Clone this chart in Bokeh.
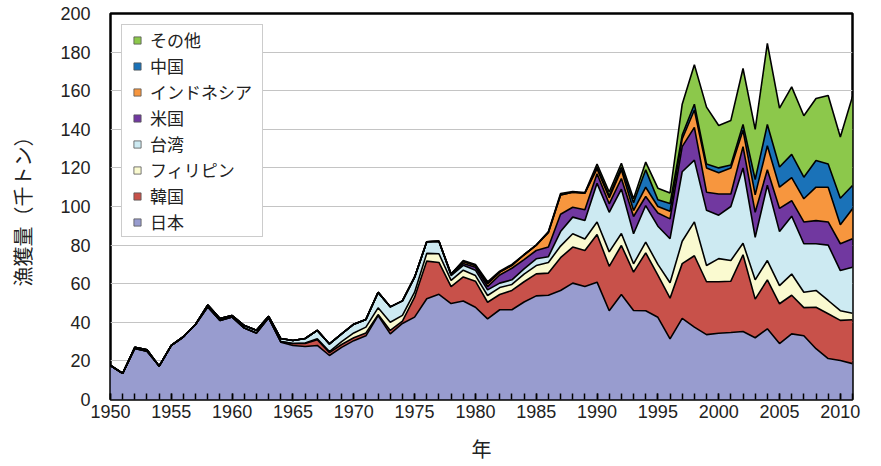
from bokeh.plotting import figure
from bokeh.models import Range1d, FixedTicker, Legend, LegendItem, ColumnDataSource
from bokeh.embed import file_html
from bokeh.resources import INLINE

years = list(range(1950, 2012))

japan = [17.6, 13.5, 26.5, 25.0, 17.3, 28.0, 32.5, 39.0, 48.0, 41.0,
         42.7, 37.0, 34.4, 42.3, 29.7, 28.0, 27.5, 28.0, 22.8, 27.0,
         30.5, 33.0, 43.5, 34.0, 39.4, 42.7, 52.2, 54.5, 49.7, 51.0,
         47.8, 41.8, 46.5, 46.5, 50.5, 53.7, 54.0, 56.5, 60.3, 58.5,
         60.8, 46.0, 54.4, 46.1, 46.0, 42.6, 31.4, 42.0, 37.5, 33.6,
         34.3, 34.7, 35.2, 32.0, 36.6, 29.0, 34.0, 33.0, 26.3, 21.2,
         20.2, 18.6]

korea = [0] * 14 + [0.3, 1.0, 1.5, 3.0, 1.5, 1.5, 1.5, 1.5, 0.5, 1.8,
                    1.2, 10.3, 19.5, 16.5, 8.8, 12.5, 13.5, 8.6, 7.9, 10.0,
                    10.5, 11.4, 11.5, 17.0, 18.7, 18.7, 24.7, 23.0, 25.4, 19.9,
                    30.0, 21.9, 21.1, 28.4, 37.0, 27.4, 26.7, 26.6, 39.8, 20.0,
                    25.4, 20.6, 20.0, 14.6, 21.5, 23.2, 20.8, 22.7]

philippines = [0] * 16 + [0.3, 0.5, 0.5, 1.5, 2.5, 3.0, 3.5, 4.2, 3.0, 2.6,
                          4.0, 4.5, 3.2, 3.5, 2.9, 3.5, 3.6, 3.1, 4.0, 4.3,
                          5.5, 6.0, 6.9, 6.0, 6.5, 7.5, 6.2, 4.3, 5.5, 5.5,
                          8.0, 11.6, 17.5, 8.4, 12.0, 10.7, 6.0, 10.0, 10.0, 9.4,
                          11.0, 8.0, 8.7, 6.9, 5.0, 3.4]

taiwan = [0, 0, 0.5, 0.8, 0, 0, 0, 0, 1.0, 1.0,
          0.8, 1.3, 1.5, 0.8, 1.6, 1.6, 2.3, 4.3, 4.0, 4.0,
          4.5, 4.0, 8.0, 8.0, 7.5, 7.8, 6.0, 6.5, 2.5, 2.5,
          2.8, 2.9, 2.3, 2.4, 2.7, 3.5, 3.0, 7.5, 8.6, 9.5,
          20.0, 20.5, 23.0, 15.6, 19.0, 19.8, 22.8, 36.0, 32.0, 28.6,
          22.5, 28.0, 39.0, 22.0, 39.0, 28.0, 30.0, 25.1, 24.2, 28.7,
          20.8, 23.8]

usa = [0] * 28 + [0.4, 1.0, 1.5, 1.7, 4.2, 6.0, 4.8, 4.3, 5.0, 9.0,
                  5.1, 5.6, 5.0, 4.4, 5.5, 8.9, 4.7, 6.8, 10.3, 13.0,
                  17.0, 9.4, 11.0, 6.5, 11.0, 13.0, 8.0, 12.0, 8.0, 11.3,
                  12.0, 12.0, 13.9, 14.8]

indonesia = [0] * 28 + [0.4, 1.0, 1.0, 1.5, 1.5, 1.5, 2.5, 2.8, 7.5, 10.0,
                        7.8, 8.6, 2.5, 3.1, 4.5, 3.1, 4.8, 3.4, 3.9, 4.0,
                        9.0, 12.6, 11.0, 13.5, 8.5, 9.0, 12.5, 11.0, 12.0, 12.0,
                        17.3, 18.0, 9.8, 15.5]

china = [0] * 40 + [1.0, 1.0, 1.5, 4.1, 9.0, 3.5, 4.0, 2.0, 3.0, 2.0,
                    2.5, 1.5, 3.0, 8.0, 11.0, 10.5, 12.0, 11.2, 13.8, 12.0,
                    13.8, 12.1]

others = [0] * 29 + [0.5, 0.5, 1.0, 0.5, 0.5, 0, 0, 0.5, 0.7, 0.4,
                     0.3, 1.5, 2.0, 1.9, 2.0, 4.0, 6.0, 5.5, 16.0, 20.5,
                     29.5, 22.0, 23.1, 29.0, 26.0, 42.0, 30.5, 35.0, 31.8, 32.2,
                     35.5, 31.7, 46.1]

series_keys = ["japan", "korea", "philippines", "taiwan", "usa", "indonesia", "china", "others"]
series_labels = ["日本", "韓国", "フィリピン", "台湾", "米国", "インドネシア", "中国", "その他"]
series_colors = ["#989ccf", "#c8514a", "#fafad0", "#cdeaf2", "#7138a0", "#f7963e", "#1a72b8", "#8cc84b"]

data = dict(year=years, japan=japan, korea=korea, philippines=philippines, taiwan=taiwan,
            usa=usa, indonesia=indonesia, china=china, others=others)
for k, v in data.items():
    assert len(v) == len(years), (k, len(v))
src = ColumnDataSource(data)

p = figure(width=875, height=466, output_backend="svg", toolbar_location=None,
           x_range=Range1d(1950, 2011), y_range=Range1d(0, 200),
           min_border_left=110, min_border_right=23, min_border_top=13, min_border_bottom=67)
p.background_fill_color = "white"
p.border_fill_color = "white"

p.varea_stack(stackers=series_keys, x="year", color=series_colors, source=src)
p.vline_stack(stackers=series_keys, x="year", color="black", line_width=1.6, source=src)

# legend-only swatches (a single NaN point each, so nothing is drawn in the plot)
nan = float("nan")
swatches = [p.scatter(x=[nan], y=[nan], marker="square", size=9, fill_color=c,
                      line_color="#555555", line_width=0.8)
            for c in series_colors]

p.outline_line_color = "black"
p.outline_line_width = 2.5

p.xgrid.grid_line_color = None
p.ygrid.grid_line_color = "#c4c4c4"
p.ygrid.grid_line_width = 1.2
p.yaxis.ticker = FixedTicker(ticks=list(range(0, 201, 20)))

p.xaxis.ticker = FixedTicker(ticks=list(range(1950, 2011, 5)), minor_ticks=years)
p.xaxis.axis_line_color = None
p.xaxis.major_tick_in = 6
p.xaxis.major_tick_out = 0
p.xaxis.minor_tick_in = 6
p.xaxis.minor_tick_out = 0
p.xaxis.major_tick_line_color = "black"
p.xaxis.minor_tick_line_color = "black"
p.xaxis.major_tick_line_width = 1.5
p.xaxis.minor_tick_line_width = 1.5

p.yaxis.axis_line_color = None
p.yaxis.major_tick_line_color = None
p.yaxis.minor_tick_line_color = None

for ax in (p.xaxis[0], p.yaxis[0]):
    ax.major_label_text_font = "Liberation Sans"
    ax.major_label_text_font_size = "18px"
    ax.major_label_text_color = "#222222"
    ax.axis_label_text_font = "Noto Sans CJK JP"
    ax.axis_label_text_font_size = "20px"
    ax.axis_label_text_font_style = "normal"
    ax.axis_label_text_color = "#222222"

p.xaxis.major_label_standoff = 5
p.xaxis.axis_label = "年"
p.xaxis.axis_label_standoff = 13
p.yaxis.major_label_standoff = 14
p.yaxis.axis_label = "漁獲量（千トン）"
p.yaxis.axis_label_standoff = 20

items = [LegendItem(label=lab, renderers=[r]) for lab, r in zip(series_labels, swatches)]
items.reverse()
legend = Legend(items=items, location="top_left", margin=11,
                label_text_font="Noto Sans CJK JP", label_text_font_size="17px",
                label_text_color="#222222",
                glyph_width=26, glyph_height=18, label_height=18, label_width=110,
                spacing=1, padding=2, label_standoff=0,
                border_line_color="#9a9a9a", border_line_width=1.2,
                background_fill_color="white", background_fill_alpha=1.0)
p.add_layout(legend)

open("out.html", "w").write(file_html(p, INLINE))
